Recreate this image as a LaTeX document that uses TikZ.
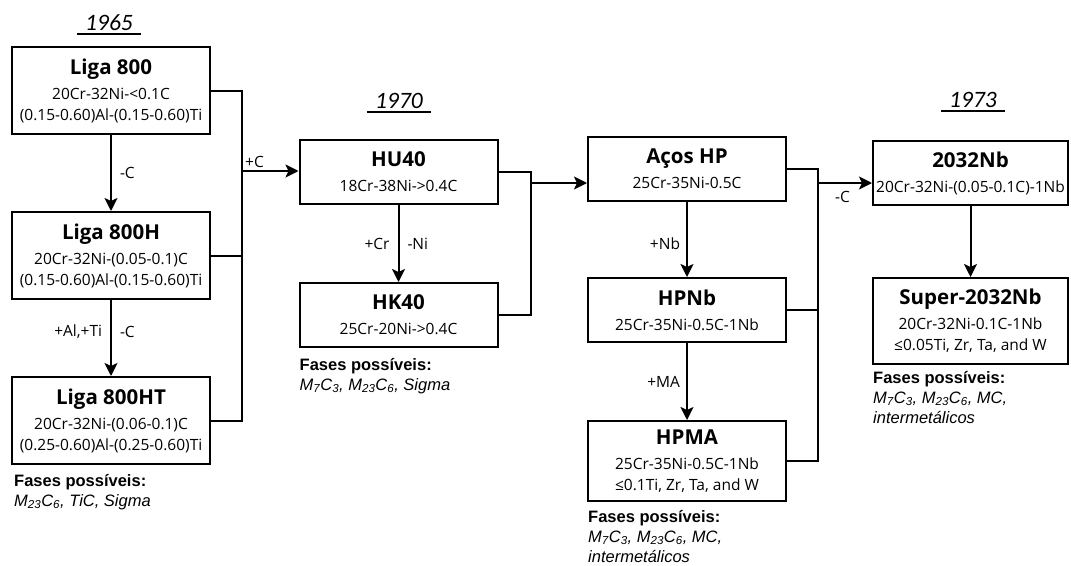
\documentclass[tikz,border=0pt]{standalone}
\usepackage{fontspec}
\setmainfont{Open Sans}
\newfontfamily\fasesfont{Liberation Sans}
\newfontfamily\yearfont{Carlito}
\usetikzlibrary{arrows.meta,positioning}

\newcommand{\alloy}[2]{{\fontsize{20.5}{22}\selectfont\bfseries #1}\\[4pt]#2}
\newcommand{\fase}[2]{M\textsubscript{#1}C\textsubscript{#2}}

\begin{document}
\begin{tikzpicture}[
        x=1pt, y=1pt,
        box/.style={draw, line width=2pt, align=center, minimum width=198pt,
                    inner sep=2pt, font=\fontsize{15.5}{21}\selectfont},
        tallbox/.style={box, minimum height=87pt},
        flatbox/.style={box, minimum height=64pt},
        link/.style={line width=2pt},
        flow/.style={link, -{Stealth[length=13pt,width=13pt,inset=3pt]}},
        year/.style={inner sep=1pt, font=\yearfont\itshape\fontsize{23.5}{25}\selectfont},
        fases/.style={anchor=north west, align=left, inner sep=0pt,
                      font=\fasesfont\fontsize{16.5}{20}\selectfont},
        steplabel/.style={inner sep=1pt, font=\fontsize{15.5}{18}\selectfont}
    ]
        \useasboundingbox (0,0) rectangle (1071,-565);

        % 1965
        \node[year] (y1965) at (109,-23) {1965};
        \node[tallbox] (liga800) at (111,-90.5)
            {\alloy{Liga 800}{20Cr-32Ni-<0.1C\\(0.15-0.60)Al-(0.15-0.60)Ti}};
        \node[tallbox, below=76pt of liga800] (liga800h)
            {\alloy{Liga 800H}{20Cr-32Ni-(0.05-0.1)C\\(0.15-0.60)Al-(0.15-0.60)Ti}};
        \node[tallbox, below=76pt of liga800h] (liga800ht)
            {\alloy{Liga 800HT}{20Cr-32Ni-(0.06-0.1)C\\(0.25-0.60)Al-(0.25-0.60)Ti}};
        \node[fases] (fases800ht) at ([xshift=3pt,yshift=-9pt]liga800ht.south west)
            {\textbf{Fases possíveis:}\\\textit{\fase{23}{6}, TiC, Sigma}};

        % 1970
        \node[year] (y1970) at (399,-101) {1970};
        \node[flatbox] (hu40) at (398.5,-172)
            {\alloy{HU40}{18Cr-38Ni->0.4C}};
        \node[flatbox, below=77pt of hu40] (hk40)
            {\alloy{HK40}{25Cr-20Ni->0.4C}};
        \node[fases] (faseshk40) at ([xshift=1pt,yshift=-10pt]hk40.south west)
            {\textbf{Fases possíveis:}\\\textit{\fase{7}{3}, \fase{23}{6}, Sigma}};

        % HP
        \node[flatbox] (acoshp) at (687,-169)
            {\alloy{Aços HP}{25Cr-35Ni-0.5C}};
        \node[flatbox, below=75pt of acoshp] (hpnb)
            {\alloy{HPNb}{25Cr-35Ni-0.5C-1Nb}};
        \node[box, minimum height=80pt, below=77pt of hpnb] (hpma)
            {\alloy{HPMA}{25Cr-35Ni-0.5C-1Nb\\≤0.1Ti, Zr, Ta, and W}};
        \node[fases] (faseshpma) at ([xshift=1pt,yshift=-8pt]hpma.south west)
            {\textbf{Fases possíveis:}\\\textit{\fase{7}{3}, \fase{23}{6}, MC,}\\\textit{intermetálicos}};

        % 1973
        \node[year] (y1973) at (973,-100) {1973};
        \node[flatbox, minimum width=195pt] (nb2032) at (970.5,-173)
            {\alloy{2032Nb}{20Cr-32Ni-(0.05-0.1C)-1Nb}};
        \node[box, minimum width=195pt, minimum height=86pt, below=71pt of nb2032] (super2032)
            {\alloy{Super-2032Nb}{20Cr-32Ni-0.1C-1Nb\\≤0.05Ti, Zr, Ta, and W}};
        \node[fases] (fasessuper) at ([xshift=1pt,yshift=-6pt]super2032.south west)
            {\textbf{Fases possíveis:}\\\textit{\fase{7}{3}, \fase{23}{6}, MC,}\\\textit{intermetálicos}};

        % year underlines
        \foreach \y in {y1965,y1970,y1973}
            \draw[line width=1.6pt] ([xshift=-7pt,yshift=-2pt]\y.south west)
                -- ([xshift=7pt,yshift=-2pt]\y.south east);

        % junctions
        \coordinate (busA) at (242,-171);
        \coordinate (busB) at (531,-183);
        \coordinate (busC) at (818,-183);

        \draw[link] (liga800.east) -| (busA) |- (liga800ht.east);
        \draw[link] (liga800h.east) -- (liga800h.east -| busA);
        \draw[flow] (busA) -- (busA -| hu40.west);
        \node[steplabel, anchor=south west] (lblC) at ([xshift=2pt,yshift=2pt]busA) {+C};

        \draw[link] (hu40.east) -| (busB) |- (hk40.east);
        \draw[flow] (busB) -- (busB -| acoshp.west);

        \draw[link] (acoshp.east) -| (busC) |- (hpma.east);
        \draw[link] (hpnb.east) -- (hpnb.east -| busC);
        \draw[flow] (busC) -- (busC -| nb2032.west);
        \node[steplabel, anchor=north west] (lblminusC) at ([xshift=16pt,yshift=-7pt]busC) {-C};

        % vertical steps
        \draw[flow] (liga800) -- node[steplabel, right=7pt] (lbl800h) {-C} (liga800h);
        \draw[flow] (liga800h) -- node[pos=0.42, steplabel, left=7pt] (lblAlTi) {+Al,+Ti}
            node[pos=0.42, steplabel, right=7pt] (lbl800ht) {-C} (liga800ht);
        \draw[flow] (hu40) -- node[steplabel, left=7pt] (lblCr) {+Cr}
            node[steplabel, right=7pt] (lblNi) {-Ni} (hk40);
        \draw[flow] (acoshp) -- node[pos=0.55, steplabel, left=5pt] (lblNb) {+Nb} (hpnb);
        \draw[flow] (hpnb) -- node[steplabel, left=5pt] (lblMA) {+MA} (hpma);
        \draw[flow] (nb2032) -- (super2032);
    \end{tikzpicture}
\end{document}
